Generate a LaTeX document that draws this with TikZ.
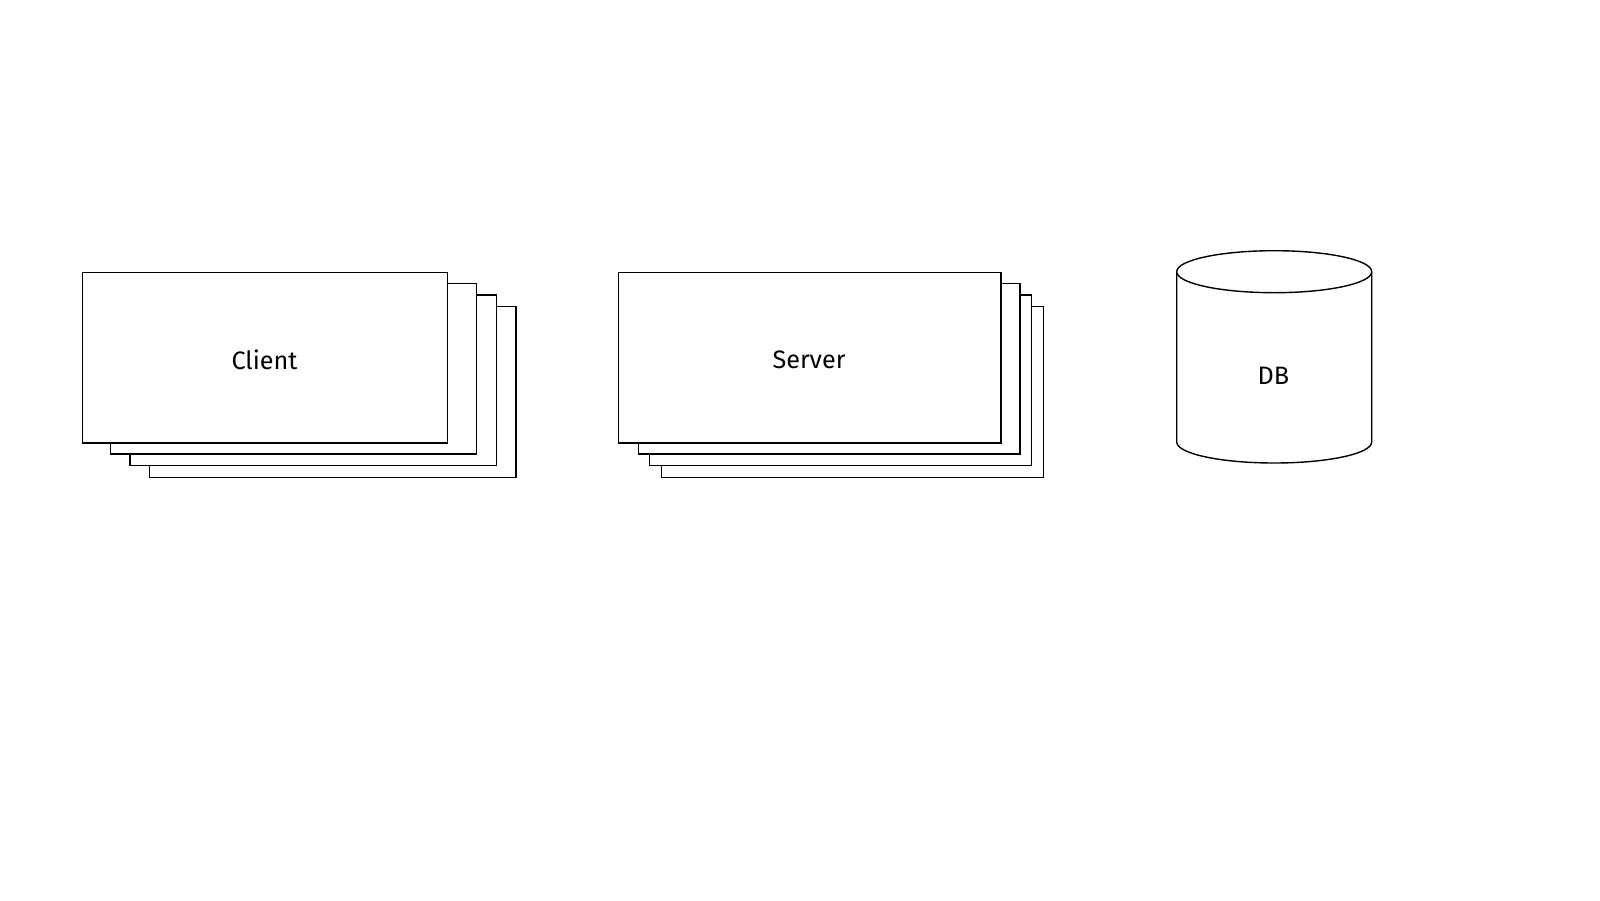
\documentclass[tikz,border=0pt]{standalone}
\usepackage{fontspec}
\setmainfont{Fira Sans}
\begin{document}
\begin{tikzpicture}[x=0.5pt,y=-0.5pt,
  card/.style={draw=black,fill=white,line width=0.7pt},
  lbl/.style={font=\fontsize{12.6pt}{15pt}\selectfont,inner sep=0pt}]
\useasboundingbox (0,0) rectangle (1600,900);
% Client stack
\draw[card] (149.3,306.7) rectangle (516,477.3);
\draw[card] (130,295) rectangle (496.7,465.7);
\draw[card] (110.7,283.3) rectangle (476.7,454);
\node[card,inner sep=0pt,minimum width=182.5pt,minimum height=85.3pt,anchor=north west] (client) at (81.7,271.7) {};
\node[lbl] (clientlbl) at (264.5,359.5) {Client};
% Server stack
\draw[card] (661.3,306.7) rectangle (1043.3,477.3);
\draw[card] (649.7,295) rectangle (1031.7,465.7);
\draw[card] (638.3,283.3) rectangle (1020,454);
\node[card,inner sep=0pt,minimum width=191.2pt,minimum height=85.3pt,anchor=north west] (server) at (617.7,271.7) {};
\node[lbl] (serverlbl) at (809,359.5) {Server};
% DB cylinder
\draw[card] (1176.7,271.7) -- (1176.7,442) arc[start angle=180,end angle=0,x radius=97.5,y radius=21] -- (1371.7,271.7);
\draw[card] (1274.2,271.7) ellipse[x radius=97.5,y radius=21];
\node[lbl] (db) at (1273.5,376) {DB};
\end{tikzpicture}
\end{document}
